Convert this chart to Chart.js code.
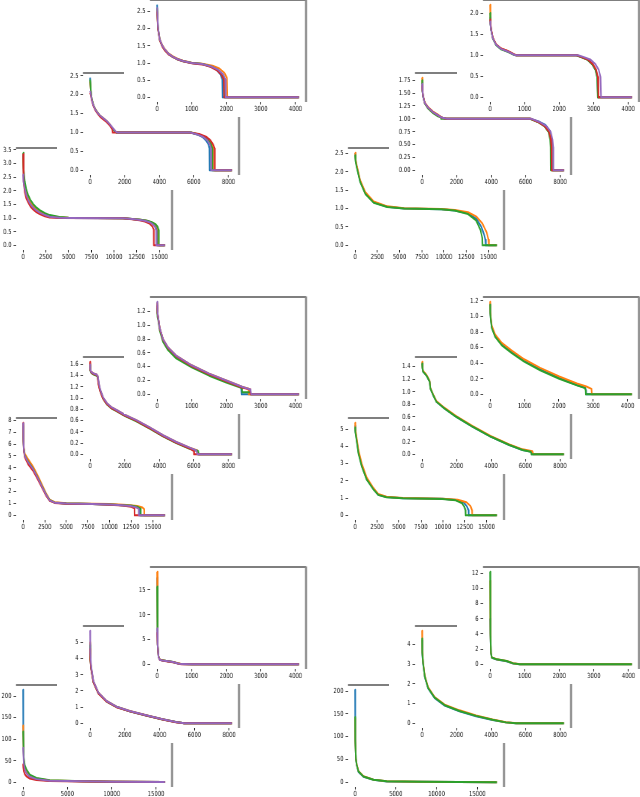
<!DOCTYPE html>
<html><head><meta charset="utf-8">
<script src="https://cdn.jsdelivr.net/npm/chart.js@4.4.1/dist/chart.umd.min.js"></script>
<style>
html,body{margin:0;padding:0;background:#fff;}
#fig{position:relative;width:640px;height:797px;background:#fff;overflow:hidden;}
.ax{position:absolute;background:#fff;overflow:hidden;}
.ax canvas{position:absolute;left:0;top:0;transform-origin:0 0;}
</style></head><body><div id="fig"></div>
<script>
// ---------- tick labels ----------
const X_TICKS_TOP = [0,1000,2000,3000,4000];
const X_TICKS_MID = [0,2000,4000,6000,8000];
const X_TICKS_FRONT = [0,2500,5000,7500,10000,12500,15000];
const X_TICKS_FRONT_WIDE = [0,5000,10000,15000];
const Y_TICKS_G1_TOP = [0,0.5,1,1.5,2,2.5];
const Y_TICKS_G1_MID = [0,0.5,1,1.5,2,2.5];
const Y_TICKS_G1_FRONT = [0,0.5,1,1.5,2,2.5,3,3.5];
const Y_TICKS_G2_TOP = [0,0.5,1,1.5,2];
const Y_TICKS_G2_MID = [0,0.25,0.5,0.75,1,1.25,1.5,1.75];
const Y_TICKS_G2_FRONT = [0,0.5,1,1.5,2,2.5];
const Y_TICKS_G3_TOP = [0,0.2,0.4,0.6,0.8,1,1.2];
const Y_TICKS_G3_MID = [0,0.2,0.4,0.6,0.8,1,1.2,1.4,1.6];
const Y_TICKS_G3_FRONT = [0,1,2,3,4,5,6,7,8];
const Y_TICKS_G4_TOP = [0,0.2,0.4,0.6,0.8,1,1.2];
const Y_TICKS_G4_MID = [0,0.2,0.4,0.6,0.8,1,1.2,1.4];
const Y_TICKS_G4_FRONT = [0,1,2,3,4,5];
const Y_TICKS_G5_TOP = [0,5,10,15];
const Y_TICKS_G5_MID = [0,1,2,3,4,5];
const Y_TICKS_G5_FRONT = [0,50,100,150,200];
const Y_TICKS_G6_TOP = [0,2,4,6,8,10,12];
const Y_TICKS_G6_MID = [0,1,2,3,4];
const Y_TICKS_G6_FRONT = [0,50,100,150,200];

// ---------- series (x, y) ----------
// group 1
const g1TopBlue   = [[0,2.70],[25,2.05],[76,1.68],[150,1.50],[220,1.39],[330,1.27],[460,1.18],[600,1.11],[750,1.06],[1000,1.00],[1300,0.97],[1550,0.90],[1720,0.80],[1830,0.67],[1885,0.52],[1895,0],[4100,0]];
const g1TopOrange = [[0,2.55],[25,2.02],[76,1.70],[150,1.52],[220,1.41],[330,1.28],[460,1.19],[600,1.12],[750,1.07],[1000,1.01],[1300,0.98],[1600,0.92],[1800,0.84],[1950,0.71],[2020,0.56],[2035,0],[4100,0]];
const g1TopGreen  = [[0,2.60],[25,2.00],[76,1.67],[150,1.49],[220,1.38],[330,1.26],[460,1.17],[600,1.10],[750,1.05],[1000,1.00],[1300,0.97],[1560,0.90],[1750,0.80],[1880,0.67],[1935,0.52],[1945,0],[4100,0]];
const g1TopRed    = [[0,2.50],[25,1.98],[76,1.66],[150,1.48],[220,1.37],[330,1.25],[460,1.17],[600,1.10],[750,1.05],[1000,0.99],[1300,0.96],[1540,0.89],[1730,0.79],[1860,0.66],[1925,0.52],[1935,0],[4100,0]];
const g1TopPurple = [[0,2.62],[25,2.03],[76,1.69],[150,1.51],[220,1.40],[330,1.27],[460,1.18],[600,1.11],[750,1.06],[1000,1.00],[1300,0.97],[1570,0.90],[1770,0.80],[1910,0.67],[1975,0.53],[1985,0],[4100,0]];

const g1MidBlue   = [[0,2.45],[40,2.10],[95,1.88],[190,1.72],[290,1.62],[430,1.52],[570,1.44],[760,1.37],[950,1.30],[1150,1.20],[1320,1.09],[1450,1.02],[1550,1.00],[5800,1.00],[6200,0.95],[6500,0.88],[6700,0.79],[6850,0.68],[6900,0.58],[6910,0],[8200,0]];
const g1MidOrange = [[0,2.35],[40,2.10],[95,1.89],[190,1.73],[290,1.63],[430,1.53],[570,1.45],[760,1.38],[950,1.31],[1150,1.21],[1320,1.10],[1450,1.03],[1550,1.00],[5850,1.00],[6300,0.95],[6650,0.88],[6900,0.79],[7050,0.68],[7110,0.58],[7120,0],[8200,0]];
const g1MidGreen  = [[0,2.40],[40,2.12],[95,1.89],[190,1.73],[290,1.62],[430,1.52],[570,1.44],[760,1.37],[950,1.30],[1150,1.20],[1320,1.09],[1450,1.02],[1550,1.00],[5830,1.00],[6250,0.95],[6600,0.88],[6850,0.79],[7000,0.68],[7060,0.58],[7070,0],[8200,0]];
const g1MidRed    = [[0,2.05],[40,1.98],[95,1.85],[190,1.70],[290,1.60],[430,1.50],[570,1.42],[760,1.35],[950,1.28],[1150,1.18],[1280,1.08],[1300,1.00],[5700,1.00],[6300,0.96],[6700,0.89],[6950,0.80],[7120,0.68],[7200,0.58],[7210,0],[8200,0]];
const g1MidPurple = [[0,2.10],[40,2.02],[95,1.87],[190,1.72],[290,1.62],[430,1.52],[570,1.45],[760,1.38],[950,1.31],[1150,1.21],[1350,1.10],[1480,1.03],[1560,1.00],[5800,1.00],[6200,0.95],[6550,0.88],[6780,0.79],[6930,0.68],[6990,0.58],[7000,0],[8200,0]];

const g1FrontBlue   = [[0,3.30],[60,2.55],[183,2.15],[350,1.88],[550,1.70],[800,1.53],[1100,1.40],[1450,1.29],[1830,1.21],[2400,1.12],[2930,1.06],[4000,1.02],[5000,1.00],[11000,0.99],[12000,0.97],[12800,0.94],[13500,0.90],[14000,0.85],[14400,0.78],[14650,0.68],[14780,0.55],[14800,0],[15600,0]];
const g1FrontOrange = [[0,3.20],[60,2.60],[183,2.20],[350,1.92],[550,1.74],[800,1.57],[1100,1.44],[1450,1.32],[1830,1.24],[2400,1.14],[2930,1.08],[4000,1.03],[5000,1.01],[11000,0.99],[12000,0.97],[12900,0.94],[13600,0.90],[14100,0.85],[14500,0.78],[14750,0.68],[14870,0.55],[14880,0],[15600,0]];
const g1FrontGreen  = [[0,3.40],[60,2.80],[183,2.35],[350,2.05],[550,1.85],[800,1.67],[1100,1.52],[1450,1.39],[1830,1.29],[2400,1.18],[2930,1.11],[4000,1.04],[5000,1.01],[11000,0.99],[12000,0.97],[12950,0.94],[13650,0.90],[14150,0.85],[14550,0.78],[14800,0.68],[14930,0.55],[14940,0],[15600,0]];
const g1FrontRed    = [[0,3.35],[60,2.30],[183,1.95],[350,1.72],[550,1.58],[800,1.43],[1100,1.32],[1450,1.22],[1830,1.15],[2400,1.07],[2930,1.02],[4000,1.00],[11000,0.99],[12000,0.96],[12800,0.92],[13400,0.87],[13900,0.80],[14200,0.70],[14370,0.58],[14380,0],[15600,0]];
const g1FrontPurple = [[0,2.60],[30,2.35],[183,2.08],[350,1.84],[550,1.67],[800,1.51],[1100,1.39],[1450,1.28],[1830,1.20],[2400,1.11],[2930,1.05],[4000,1.01],[5000,1.00],[11000,0.99],[12000,0.97],[12700,0.94],[13400,0.90],[13900,0.85],[14250,0.78],[14500,0.68],[14630,0.55],[14640,0],[15600,0]];

// group 2
const g2TopBlue   = [[0,1.90],[10,1.75],[29,1.61],[77,1.41],[173,1.25],[317,1.15],[510,1.09],[700,1.01],[750,1.00],[2500,1.00],[2625,0.96],[2817,0.90],[2960,0.79],[3058,0.65],[3106,0.48],[3125,0],[4110,0]];
const g2TopOrange = [[0,2.20],[10,1.80],[29,1.62],[77,1.42],[173,1.26],[317,1.16],[510,1.10],[700,1.02],[760,1.00],[2510,1.00],[2635,0.96],[2827,0.90],[2970,0.79],[3068,0.65],[3116,0.48],[3135,0],[4110,0]];
const g2TopGreen  = [[0,2.00],[10,1.74],[29,1.60],[77,1.40],[173,1.24],[317,1.14],[510,1.08],[690,1.01],[740,1.00],[2500,1.00],[2620,0.96],[2812,0.90],[2955,0.79],[3052,0.65],[3100,0.48],[3120,0],[4110,0]];
const g2TopRed    = [[0,1.85],[10,1.76],[29,1.62],[77,1.42],[173,1.26],[317,1.16],[510,1.10],[700,1.02],[760,1.00],[2520,1.00],[2640,0.96],[2830,0.90],[2975,0.79],[3075,0.65],[3122,0.48],[3140,0],[4110,0]];
const g2TopPurple = [[0,1.80],[10,1.72],[29,1.60],[77,1.41],[173,1.25],[317,1.15],[510,1.09],[700,1.01],[750,1.00],[2550,1.00],[2700,0.96],[2900,0.90],[3050,0.79],[3150,0.65],[3200,0.48],[3215,0],[4110,0]];

const g2MidBlue   = [[0,1.70],[20,1.55],[57,1.44],[153,1.31],[344,1.22],[631,1.13],[918,1.07],[1166,1.02],[1400,1.00],[6300,1.00],[6750,0.95],[7150,0.88],[7400,0.77],[7500,0.62],[7540,0.45],[7550,0],[8220,0]];
const g2MidOrange = [[0,1.80],[20,1.57],[57,1.45],[153,1.32],[344,1.23],[631,1.14],[918,1.08],[1166,1.02],[1400,1.00],[6300,1.00],[6720,0.94],[7110,0.86],[7360,0.75],[7470,0.60],[7510,0.45],[7520,0],[8220,0]];
const g2MidGreen  = [[0,1.75],[20,1.54],[57,1.43],[153,1.30],[344,1.20],[631,1.11],[918,1.05],[1080,1.03],[1100,1.00],[6250,1.00],[6700,0.94],[7080,0.86],[7320,0.75],[7420,0.60],[7450,0.45],[7460,0],[8220,0]];
const g2MidRed    = [[0,1.65],[20,1.55],[57,1.44],[153,1.31],[344,1.22],[631,1.13],[918,1.07],[1166,1.02],[1400,1.00],[6300,1.00],[6720,0.94],[7100,0.86],[7350,0.75],[7460,0.60],[7495,0.45],[7505,0],[8220,0]];
const g2MidPurple = [[0,1.68],[20,1.56],[57,1.44],[153,1.31],[344,1.22],[631,1.13],[918,1.07],[1166,1.02],[1450,1.00],[6350,1.00],[6800,0.94],[7200,0.86],[7450,0.75],[7560,0.60],[7600,0.45],[7610,0],[8220,0]];

const g2FrontBlue   = [[0,2.50],[50,2.32],[190,2.14],[570,1.74],[1140,1.42],[2090,1.17],[3610,1.05],[5510,1.00],[9690,0.98],[11200,0.95],[12700,0.87],[13650,0.72],[14200,0.50],[14500,0.30],[14650,0.15],[14700,0],[15950,0]];
const g2FrontOrange = [[0,2.52],[50,2.35],[190,2.17],[570,1.77],[1140,1.45],[2090,1.19],[3610,1.06],[5510,1.01],[9690,0.99],[11200,0.96],[12700,0.90],[13650,0.78],[14300,0.60],[14800,0.35],[15000,0.15],[15050,0],[15950,0]];
const g2FrontGreen  = [[0,2.45],[50,2.28],[190,2.11],[570,1.72],[1140,1.40],[2090,1.16],[3610,1.04],[5510,1.00],[9690,0.98],[11200,0.95],[12700,0.85],[13600,0.68],[14100,0.42],[14300,0.20],[14330,0],[15950,0]];

// group 3
const g3TopBlue   = [[0,1.30],[10,1.18],[29,1.11],[76,0.95],[171,0.79],[314,0.67],[552,0.55],[1000,0.41],[1505,0.29],[2000,0.19],[2430,0.11],[2440,0],[4100,0]];
const g3TopOrange = [[0,1.32],[10,1.19],[29,1.12],[76,0.96],[171,0.80],[314,0.68],[552,0.56],[1000,0.42],[1505,0.30],[2000,0.20],[2457,0.11],[2640,0.08],[2650,0],[4100,0]];
const g3TopGreen  = [[0,1.25],[10,1.12],[29,1.08],[76,0.92],[171,0.76],[314,0.64],[552,0.52],[1000,0.39],[1505,0.27],[2000,0.17],[2450,0.09],[2460,0.03],[2700,0.03],[2710,0],[4100,0]];
const g3TopRed    = [[0,1.28],[10,1.17],[29,1.11],[76,0.95],[171,0.79],[314,0.67],[552,0.55],[1000,0.41],[1505,0.29],[2000,0.19],[2457,0.10],[2690,0.07],[2700,0],[4100,0]];
const g3TopPurple = [[0,1.34],[10,1.20],[29,1.12],[76,0.96],[171,0.80],[314,0.68],[552,0.56],[1000,0.42],[1505,0.30],[2000,0.20],[2457,0.11],[2700,0.07],[2720,0],[4100,0]];

const g3MidBlue   = [[0,1.60],[10,1.50],[60,1.46],[200,1.43],[380,1.41],[440,1.38],[500,1.25],[580,1.14],[750,1.00],[970,0.90],[1220,0.83],[1520,0.78],[2020,0.69],[2670,0.60],[3440,0.47],[4210,0.33],[4980,0.21],[5750,0.11],[6200,0.06],[6250,0],[8200,0]];
const g3MidOrange = [[0,1.62],[10,1.51],[60,1.47],[200,1.44],[380,1.42],[440,1.39],[500,1.26],[580,1.15],[750,1.01],[970,0.91],[1220,0.84],[1520,0.79],[2020,0.70],[2670,0.61],[3440,0.48],[4210,0.34],[4980,0.22],[5750,0.12],[6200,0.07],[6250,0],[8200,0]];
const g3MidGreen  = [[0,1.58],[10,1.49],[60,1.45],[200,1.42],[380,1.40],[440,1.37],[500,1.24],[580,1.13],[750,0.99],[970,0.89],[1220,0.82],[1520,0.77],[2020,0.68],[2670,0.59],[3440,0.46],[4210,0.32],[4980,0.20],[5750,0.10],[6250,0.06],[6300,0],[8200,0]];
const g3MidRed    = [[0,1.65],[10,1.50],[60,1.46],[200,1.43],[380,1.41],[430,1.38],[480,1.25],[560,1.14],[730,1.00],[950,0.90],[1200,0.83],[1500,0.78],[2000,0.69],[2650,0.60],[3420,0.47],[4190,0.33],[4960,0.21],[5730,0.11],[6000,0.06],[6010,0],[8200,0]];
const g3MidPurple = [[0,1.60],[10,1.51],[60,1.47],[200,1.44],[380,1.42],[450,1.39],[510,1.26],[590,1.15],[760,1.01],[980,0.91],[1230,0.84],[1530,0.79],[2030,0.70],[2680,0.61],[3450,0.48],[4220,0.34],[4990,0.22],[5760,0.12],[6150,0.07],[6200,0],[8200,0]];

const g3FrontBlue   = [[0,7.70],[30,6.50],[80,5.60],[190,5.05],[580,4.55],[1150,3.95],[1730,3.15],[2310,2.28],[2690,1.72],[3080,1.28],[3650,1.08],[5000,1.00],[8000,0.96],[10000,0.92],[11500,0.86],[12500,0.80],[13200,0.70],[13500,0.55],[13510,0],[16400,0]];
const g3FrontOrange = [[0,7.60],[30,6.60],[80,5.75],[190,5.20],[580,4.72],[1150,4.10],[1730,3.28],[2310,2.38],[2690,1.80],[3080,1.33],[3650,1.10],[5000,1.01],[8000,0.98],[10000,0.95],[12000,0.88],[13200,0.79],[13800,0.66],[14000,0.52],[14010,0],[16400,0]];
const g3FrontGreen  = [[0,7.50],[30,6.45],[80,5.58],[190,5.02],[580,4.52],[1150,3.92],[1730,3.12],[2310,2.26],[2690,1.70],[3080,1.27],[3650,1.07],[5000,0.99],[8000,0.96],[10000,0.92],[11600,0.86],[12600,0.80],[13300,0.70],[13600,0.55],[13610,0],[16400,0]];
const g3FrontRed    = [[0,7.80],[30,6.30],[80,5.45],[190,4.90],[580,4.30],[1150,3.75],[1730,2.98],[2310,2.15],[2690,1.62],[3080,1.22],[3650,1.05],[5000,0.98],[8000,0.95],[10000,0.90],[11500,0.82],[12500,0.72],[12880,0.60],[12890,0],[16400,0]];
const g3FrontPurple = [[0,7.75],[30,6.45],[80,5.55],[190,5.00],[580,4.48],[1150,3.90],[1730,3.10],[2310,2.24],[2690,1.70],[3080,1.26],[3650,1.07],[5000,0.99],[8000,0.95],[10000,0.91],[11400,0.85],[12400,0.78],[13050,0.68],[13370,0.55],[13380,0],[16400,0]];

// group 4
const g4TopBlue   = [[0,1.16],[5,1.05],[19,0.97],[49,0.86],[146,0.75],[340,0.64],[631,0.54],[990,0.43],[1456,0.32],[2010,0.21],[2524,0.12],[2767,0.085],[2790,0.05],[2795,0],[4126,0]];
const g4TopOrange = [[0,1.19],[5,1.07],[19,0.99],[49,0.88],[146,0.77],[340,0.66],[631,0.56],[990,0.45],[1456,0.34],[2010,0.23],[2524,0.14],[2800,0.10],[2950,0.07],[2960,0],[4126,0]];
const g4TopGreen  = [[0,1.15],[5,1.04],[19,0.96],[49,0.85],[146,0.74],[340,0.63],[631,0.53],[990,0.42],[1456,0.31],[2010,0.20],[2524,0.115],[2760,0.08],[2780,0.05],[2785,0],[4126,0]];

const g4MidBlue   = [[0,1.45],[20,1.38],[58,1.32],[190,1.28],[290,1.24],[385,1.19],[440,1.16],[480,1.05],[635,0.95],[830,0.84],[1310,0.73],[1980,0.60],[2940,0.44],[4000,0.28],[5060,0.15],[5830,0.07],[6350,0.04],[6380,0],[8230,0]];
const g4MidOrange = [[0,1.48],[20,1.39],[58,1.33],[190,1.29],[290,1.25],[385,1.20],[440,1.17],[480,1.06],[635,0.96],[830,0.85],[1310,0.74],[1980,0.61],[2940,0.45],[4000,0.29],[5060,0.16],[5830,0.08],[6400,0.05],[6450,0],[8230,0]];
const g4MidGreen  = [[0,1.45],[20,1.38],[58,1.32],[190,1.28],[290,1.24],[385,1.19],[440,1.16],[480,1.05],[635,0.95],[830,0.84],[1310,0.73],[1980,0.60],[2940,0.44],[4000,0.28],[5060,0.15],[5830,0.07],[6310,0.04],[6340,0],[8230,0]];

const g4FrontBlue   = [[0,5.20],[30,4.88],[113,4.60],[376,3.68],[750,2.90],[1316,2.10],[2070,1.54],[2630,1.20],[3570,1.06],[5450,1.00],[9960,0.96],[11500,0.89],[12400,0.74],[12750,0.52],[12930,0.30],[12950,0],[16170,0]];
const g4FrontOrange = [[0,5.38],[30,5.00],[113,4.72],[376,3.80],[750,3.02],[1316,2.20],[2070,1.60],[2630,1.24],[3570,1.08],[5450,1.01],[9960,0.97],[11700,0.90],[12700,0.76],[13150,0.54],[13330,0.30],[13350,0],[16170,0]];
const g4FrontGreen  = [[0,5.10],[30,4.80],[113,4.55],[376,3.60],[750,2.85],[1316,2.08],[2070,1.52],[2630,1.19],[3570,1.05],[5450,1.00],[9960,0.95],[11470,0.87],[12200,0.70],[12450,0.50],[12580,0.30],[12600,0],[16170,0]];

// group 5
const g5TopBlue   = [[0,17.5],[15,4.0],[40,1.6],[76,0.95],[150,0.80],[267,0.67],[457,0.47],[600,0.20],[700,0.05],[1000,0],[4100,0]];
const g5TopOrange = [[0,18.7],[15,4.2],[40,1.7],[76,0.97],[150,0.82],[267,0.68],[457,0.48],[600,0.21],[700,0.06],[1000,0],[4100,0]];
const g5TopGreen  = [[0,15.7],[15,4.1],[40,1.65],[76,0.96],[150,0.81],[267,0.68],[457,0.48],[600,0.20],[700,0.05],[1000,0],[4100,0]];
const g5TopRed    = [[0,6.5],[15,3.8],[40,1.5],[76,0.93],[150,0.78],[267,0.65],[457,0.45],[600,0.18],[700,0.04],[1000,0],[4100,0]];
const g5TopPurple = [[0,7.3],[15,3.9],[40,1.55],[76,0.94],[150,0.79],[267,0.66],[457,0.46],[600,0.19],[700,0.05],[1000,0],[4100,0]];

const g5MidBlue   = [[0,4.90],[10,4.00],[57,3.40],[190,2.55],[474,1.87],[950,1.36],[1520,1.02],[2280,0.75],[3230,0.49],[4170,0.25],[4930,0.08],[5410,0.01],[5600,0],[8160,0]];
const g5MidOrange = [[0,5.00],[10,4.10],[57,3.45],[190,2.60],[474,1.90],[950,1.38],[1520,1.03],[2280,0.76],[3230,0.50],[4170,0.26],[4930,0.09],[5410,0.01],[5600,0],[8160,0]];
const g5MidGreen  = [[0,4.80],[10,3.95],[57,3.38],[190,2.53],[474,1.86],[950,1.35],[1520,1.01],[2280,0.74],[3230,0.48],[4170,0.24],[4930,0.08],[5410,0.01],[5600,0],[8160,0]];
const g5MidRed    = [[0,4.60],[10,3.90],[57,3.35],[190,2.52],[474,1.85],[950,1.34],[1520,1.00],[2280,0.74],[3230,0.48],[4170,0.24],[4930,0.07],[5410,0.01],[5600,0],[8160,0]];
const g5MidPurple = [[0,5.72],[10,4.40],[57,3.55],[190,2.62],[474,1.90],[950,1.38],[1520,1.03],[2280,0.76],[3230,0.50],[4170,0.25],[4930,0.08],[5410,0.01],[5600,0],[8160,0]];

const g5FrontBlue   = [[0,215],[20,120],[75,50],[190,32],[375,22],[750,13.5],[1500,8.0],[3000,4.0],[6770,2.4],[10000,1.5],[16000,0.8]];
const g5FrontOrange = [[0,132],[20,110],[75,52],[190,34],[375,24],[750,15.0],[1500,8.8],[3000,4.4],[6770,2.6],[10000,1.6],[16000,0.8]];
const g5FrontGreen  = [[0,118],[20,105],[75,58],[190,40],[375,30],[750,18.0],[1500,10.0],[3000,4.8],[6770,2.7],[10000,1.7],[16000,0.9]];
const g5FrontRed    = [[0,42],[20,35],[75,26],[190,19],[375,14],[750,9.0],[1500,5.5],[3000,3.0],[6770,2.0],[10000,1.3],[16000,0.7]];
const g5FrontPurple = [[0,80],[20,70],[75,45],[190,30],[375,21],[750,13.0],[1500,7.5],[3000,3.8],[6770,2.3],[10000,1.4],[16000,0.8]];

// group 6
const g6TopBlue   = [[0,6.0],[10,3.8],[25,1.45],[48,0.88],[190,0.64],[476,0.42],[667,0.11],[850,0],[4100,0]];
const g6TopOrange = [[0,11.0],[10,4.1],[25,1.55],[48,0.92],[190,0.68],[476,0.46],[667,0.15],[870,0],[4100,0]];
const g6TopGreen  = [[0,12.2],[10,4.0],[25,1.50],[48,0.90],[190,0.66],[476,0.44],[667,0.13],[860,0],[4100,0]];

const g6MidBlue   = [[0,4.20],[10,3.55],[58,3.02],[154,2.36],[346,1.78],[730,1.28],[1310,0.90],[2170,0.61],[3130,0.36],[4090,0.17],[4860,0.05],[5440,0],[8230,0]];
const g6MidOrange = [[0,4.70],[10,3.70],[58,3.10],[154,2.42],[346,1.84],[730,1.33],[1310,0.95],[2170,0.66],[3130,0.40],[4090,0.20],[4860,0.06],[5500,0],[8230,0]];
const g6MidGreen  = [[0,4.30],[10,3.60],[58,3.05],[154,2.38],[346,1.80],[730,1.30],[1310,0.92],[2170,0.63],[3130,0.38],[4090,0.18],[4860,0.05],[5440,0],[8230,0]];

const g6FrontBlue   = [[0,203],[20,95],[100,50],[205,37],[410,23],[1025,12.5],[2250,5.6],[3890,2.1],[8000,1.2],[17400,0.5]];
const g6FrontOrange = [[0,140],[20,92],[100,51],[205,39],[410,25],[1025,13.5],[2250,6.0],[3890,2.3],[8000,1.3],[17400,0.5]];
const g6FrontGreen  = [[0,143],[20,90],[100,50],[205,38],[410,24],[1025,13.0],[2250,5.8],[3890,2.2],[8000,1.2],[17400,0.5]];

// ---------- layout ----------
const COLORS = ['#1f77b4','#ff7f0e','#2ca02c','#d62728','#9467bd'];
const AXES = [
  // group 1
  {l:16, t:148, s:[g1FrontBlue,g1FrontOrange,g1FrontGreen,g1FrontRed,g1FrontPurple], xt:X_TICKS_FRONT, yt:Y_TICKS_G1_FRONT, d:1},
  {l:83, t:73,  s:[g1MidBlue,g1MidOrange,g1MidGreen,g1MidRed,g1MidPurple], xt:X_TICKS_MID, yt:Y_TICKS_G1_MID, d:1},
  {l:150,t:0,   s:[g1TopBlue,g1TopOrange,g1TopGreen,g1TopRed,g1TopPurple], xt:X_TICKS_TOP, yt:Y_TICKS_G1_TOP, d:1},
  // group 2
  {l:348,t:148, s:[g2FrontBlue,g2FrontOrange,g2FrontGreen], xt:X_TICKS_FRONT, yt:Y_TICKS_G2_FRONT, d:1},
  {l:415,t:73,  s:[g2MidBlue,g2MidOrange,g2MidGreen,g2MidRed,g2MidPurple], xt:X_TICKS_MID, yt:Y_TICKS_G2_MID, d:2},
  {l:483,t:0,   s:[g2TopBlue,g2TopOrange,g2TopGreen,g2TopRed,g2TopPurple], xt:X_TICKS_TOP, yt:Y_TICKS_G2_TOP, d:1},
  // group 3
  {l:16, t:418, s:[g3FrontBlue,g3FrontOrange,g3FrontGreen,g3FrontRed,g3FrontPurple], xt:X_TICKS_FRONT, yt:Y_TICKS_G3_FRONT, d:0},
  {l:83, t:357, s:[g3MidBlue,g3MidOrange,g3MidGreen,g3MidRed,g3MidPurple], xt:X_TICKS_MID, yt:Y_TICKS_G3_MID, d:1},
  {l:150,t:297, s:[g3TopBlue,g3TopOrange,g3TopGreen,g3TopRed,g3TopPurple], xt:X_TICKS_TOP, yt:Y_TICKS_G3_TOP, d:1},
  // group 4
  {l:348,t:418, s:[g4FrontBlue,g4FrontOrange,g4FrontGreen], xt:X_TICKS_FRONT, yt:Y_TICKS_G4_FRONT, d:0},
  {l:415,t:357, s:[g4MidBlue,g4MidOrange,g4MidGreen], xt:X_TICKS_MID, yt:Y_TICKS_G4_MID, d:1},
  {l:483,t:297, s:[g4TopBlue,g4TopOrange,g4TopGreen], xt:X_TICKS_TOP, yt:Y_TICKS_G4_TOP, d:1},
  // group 5
  {l:16, t:685, s:[g5FrontBlue,g5FrontOrange,g5FrontGreen,g5FrontRed,g5FrontPurple], xt:X_TICKS_FRONT_WIDE, yt:Y_TICKS_G5_FRONT, d:0},
  {l:83, t:626, s:[g5MidBlue,g5MidOrange,g5MidGreen,g5MidRed,g5MidPurple], xt:X_TICKS_MID, yt:Y_TICKS_G5_MID, d:0},
  {l:150,t:567, s:[g5TopBlue,g5TopOrange,g5TopGreen,g5TopRed,g5TopPurple], xt:X_TICKS_TOP, yt:Y_TICKS_G5_TOP, d:0},
  // group 6
  {l:348,t:685, s:[g6FrontBlue,g6FrontOrange,g6FrontGreen], xt:X_TICKS_FRONT_WIDE, yt:Y_TICKS_G6_FRONT, d:0},
  {l:415,t:626, s:[g6MidBlue,g6MidOrange,g6MidGreen], xt:X_TICKS_MID, yt:Y_TICKS_G6_MID, d:0},
  {l:483,t:567, s:[g6TopBlue,g6TopOrange,g6TopGreen], xt:X_TICKS_TOP, yt:Y_TICKS_G6_TOP, d:0}
];

const AXW = 156, AXH = 102, LAB_L = 26, LAB_B = 15, PAD_T = 2, PAD_R = 6;
const DW = LAB_L + AXW + PAD_R, DH = PAD_T + AXH + LAB_B;
const SX = 0.75;               // horizontal squeeze of each inset
const IW = Math.round(DW / SX); // internal canvas width
const sx = DW / IW;

const spinePlugin = {
  id: 'spines',
  afterDraw(chart) {
    const {ctx, chartArea: a} = chart;
    ctx.save();
    ctx.strokeStyle = '#555'; ctx.lineWidth = 1.3;
    ctx.beginPath(); ctx.moveTo(a.left, a.top); ctx.lineTo(a.right, a.top); ctx.stroke();
    ctx.strokeStyle = '#8a8a8a'; ctx.lineWidth = 2 / sx;
    ctx.beginPath(); ctx.moveTo(a.right, a.top - 0.6); ctx.lineTo(a.right, a.bottom); ctx.stroke();
    ctx.restore();
  }
};

const fig = document.getElementById('fig');
const FONT = {family: 'DejaVu Sans', size: 7};

AXES.forEach(ax => {
  const wrap = document.createElement('div');
  wrap.className = 'ax';
  wrap.style.left = (ax.l - LAB_L) + 'px';
  wrap.style.top = (ax.t - PAD_T) + 'px';
  wrap.style.width = DW + 'px';
  wrap.style.height = DH + 'px';
  const cv = document.createElement('canvas');
  cv.width = IW; cv.height = DH;
  cv.style.width = IW + 'px'; cv.style.height = DH + 'px';
  cv.style.transform = 'scaleX(' + sx + ')';
  wrap.appendChild(cv);
  fig.appendChild(wrap);

  let xmax = 0, ymax = 0;
  ax.s.forEach(ser => ser.forEach(p => { xmax = Math.max(xmax, p[0]); ymax = Math.max(ymax, p[1]); }));
  const n = ax.s.length;

  new Chart(cv, {
    type: 'scatter',
    data: {
      datasets: ax.s.map((ser, i) => ({
        data: ser.map(p => ({x: p[0], y: p[1]})),
        order: n - 1 - i,
        showLine: true, borderColor: COLORS[i], backgroundColor: COLORS[i],
        borderWidth: 2, pointRadius: 0, pointHoverRadius: 0, tension: 0,
        borderJoinStyle: 'round', fill: false
      }))
    },
    options: {
      responsive: false, animation: false, devicePixelRatio: 1,
      events: [],
      layout: {padding: {top: PAD_T, right: PAD_R / sx, left: 0, bottom: 0}},
      plugins: {legend: {display: false}, tooltip: {enabled: false}},
      scales: {
        x: {
          type: 'linear', min: -0.05 * xmax, max: 1.05 * xmax,
          afterBuildTicks: sc => { sc.ticks = ax.xt.map(v => ({value: v})); },
          afterFit: sc => { sc.height = LAB_B; sc.paddingLeft = 0; sc.paddingRight = 0; },
          ticks: {font: FONT, color: '#111', padding: 0, maxRotation: 0, minRotation: 0, autoSkip: false,
                  callback: v => String(v)},
          grid: {drawOnChartArea: false, drawTicks: true, tickLength: 2.5, tickColor: '#222', tickWidth: 0.8 / sx},
          border: {display: false}
        },
        y: {
          type: 'linear', min: -0.05 * ymax, max: 1.05 * ymax,
          afterBuildTicks: sc => { sc.ticks = ax.yt.map(v => ({value: v})); },
          afterFit: sc => { sc.width = LAB_L / sx; sc.paddingTop = 0; sc.paddingBottom = 0; },
          ticks: {font: FONT, color: '#111', padding: 2 / sx, autoSkip: false,
                  callback: v => Number(v).toFixed(ax.d)},
          grid: {drawOnChartArea: false, drawTicks: true, tickLength: 2.5 / sx, tickColor: '#222', tickWidth: 0.8},
          border: {display: false}
        }
      }
    },
    plugins: [spinePlugin]
  });
});
</script></body></html>
